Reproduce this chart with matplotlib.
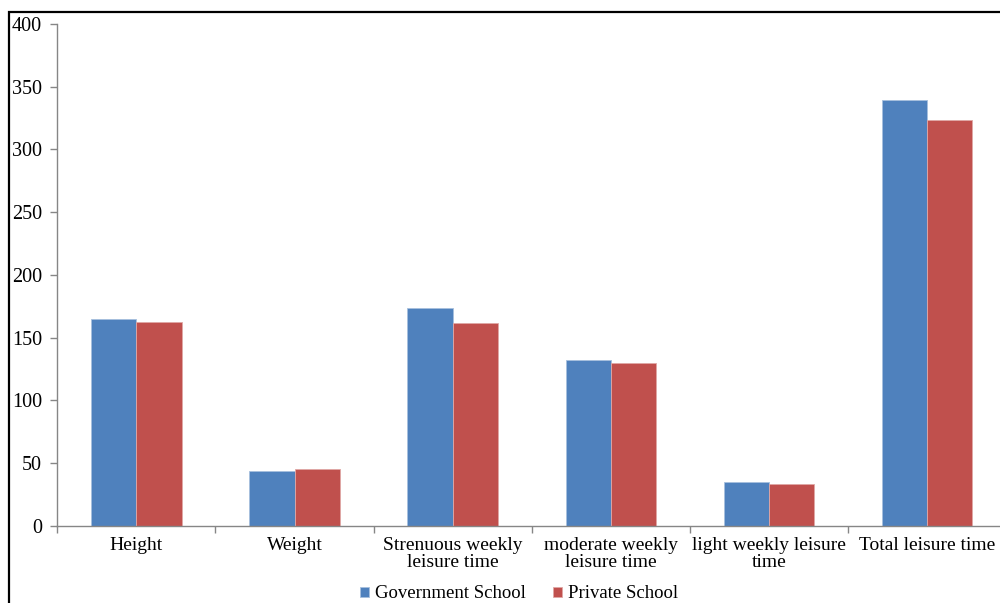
import numpy as np
import matplotlib
matplotlib.use("Agg")
import matplotlib.pyplot as plt
from matplotlib.patches import Rectangle

categories = ["Height", "Weight", "Strenuous weekly\nleisure time",
              "moderate weekly\nleisure time", "light weekly leisure\ntime",
              "Total leisure time"]
government = [164.6, 43.4, 173.5, 132.1, 34.8, 339.3]
private = [162.2, 45.5, 161.3, 129.4, 33.5, 323.3]
yticks = [0, 50, 100, 150, 200, 250, 300, 350, 400]

plt.rcParams['font.family'] = ['Liberation Serif', 'DejaVu Serif']

fig = plt.figure(figsize=(10, 6.03), dpi=100)
ax = fig.add_axes([0.0573, 0.1282, 0.949, 0.832])

x = np.arange(len(categories))
w = 0.286
ax.bar(x - w/2, government, w, color='#4F81BD', label='Government School',
       edgecolor='#a7c0de', linewidth=0.6)
ax.bar(x + w/2, private, w, color='#C0504D', label='Private School',
       edgecolor='#e0a8a6', linewidth=0.6)

ax.set_xlim(-0.5, len(categories) - 0.5)
ax.set_ylim(0, 400)
ax.set_yticks(yticks)
ax.set_yticklabels([str(v) for v in yticks], fontsize=14.5)

# category labels centred, ticks on the boundaries
ax.set_xticks(x)
ax.set_xticklabels(categories, fontsize=14, linespacing=1.0)
ax.tick_params(axis='x', length=0, pad=8)
ax.set_xticks(np.arange(-0.5, len(categories)), minor=True)
ax.tick_params(axis='x', which='minor', length=5, color='#868686', width=1)
ax.tick_params(axis='y', length=5, color='#868686', width=1, pad=6)

for s in ['top', 'right']:
    ax.spines[s].set_visible(False)
for s in ['left', 'bottom']:
    ax.spines[s].set_color('#868686')
    ax.spines[s].set_linewidth(1)

ax.legend(loc='center', bbox_to_anchor=(519/1000, 9/603), bbox_transform=fig.transFigure,
          ncol=2, frameon=False, fontsize=13.5, handlelength=0.48, handleheight=0.48,
          handletextpad=0.3, columnspacing=1.45, borderpad=0)

# outer frame of the chart area (cut off at right and bottom)
fig.patches.append(Rectangle((9/1000, -0.1), 1.2, 1.1 - 12/603, transform=fig.transFigure,
                             fill=False, edgecolor='black', linewidth=1.6))

fig.savefig('out.png', dpi=100)
